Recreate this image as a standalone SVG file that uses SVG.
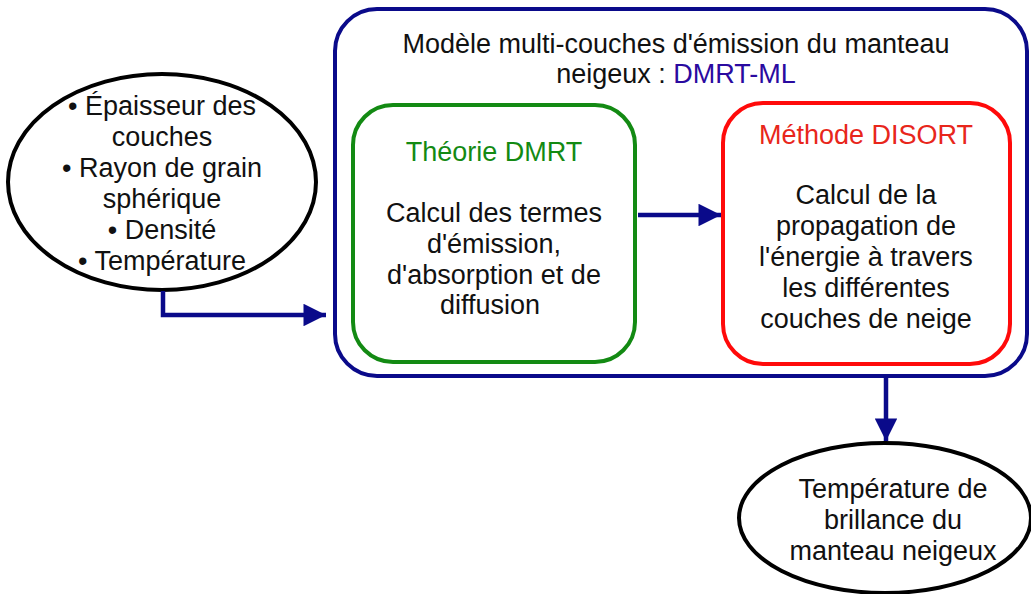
<svg xmlns="http://www.w3.org/2000/svg" width="1031" height="594" viewBox="0 0 1031 594">
<defs>
<style>
text{font-family:"Liberation Sans",Arial,sans-serif;font-size:27px;fill:#111;text-anchor:middle}
.ell{fill:#fff;stroke:#000;stroke-width:4}
.con{fill:none;stroke:#0a0a8a;stroke-width:4.5}
</style>
<marker id="ah" viewBox="0 0 10 10" refX="10" refY="5" markerWidth="6" markerHeight="5" markerUnits="strokeWidth" orient="auto">
<path d="M0,0 L10,5 L0,10 z" fill="#0a0a8a"/>
</marker>
</defs>
<rect width="1031" height="594" fill="#fff"/>
<g id="model">
<rect x="335" y="9" width="692" height="367" rx="42" fill="#fff" stroke="#0a0a8a" stroke-width="4"/>
<text x="676" y="53">Modèle multi-couches d'émission du manteau</text>
<text x="676" y="83">neigeux : <tspan style="fill:#2a0aa0">DMRT-ML</tspan></text>
</g>
<g id="dmrt">
<rect x="353" y="105" width="282" height="257" rx="40" fill="#fff" stroke="#138a13" stroke-width="4"/>
<text x="494" y="161" style="fill:#138a13">Théorie DMRT</text>
<text x="494" y="222">Calcul des termes</text>
<text x="494" y="253">d'émission,</text>
<text x="494" y="284">d'absorption et de</text>
<text x="490" y="314">diffusion</text>
</g>
<g id="disort">
<rect x="723" y="103" width="287" height="261" rx="40" fill="#fff" stroke="#ff0a0a" stroke-width="4"/>
<text x="866" y="144" style="fill:#e8261b">Méthode DISORT</text>
<text x="866" y="204">Calcul de la</text>
<text x="866" y="235">propagation de</text>
<text x="866" y="266">l'énergie à travers</text>
<text x="866" y="297">les différentes</text>
<text x="866" y="328">couches de neige</text>
</g>
<g id="inputs">
<ellipse class="ell" cx="162" cy="182" rx="154" ry="108"/>
<text x="162" y="115">• Épaisseur des</text>
<text x="162" y="146">couches</text>
<text x="162" y="177">• Rayon de grain</text>
<text x="162" y="208">sphérique</text>
<text x="162" y="239">• Densité</text>
<text x="162" y="270">• Température</text>
</g>
<g id="output">
<ellipse class="ell" cx="885" cy="518" rx="146" ry="75"/>
<text x="893" y="498">Température de</text>
<text x="893" y="529">brillance du</text>
<text x="893" y="560">manteau neigeux</text>
</g>
<g id="connectors">
<path class="con" d="M163,291 V315 H326" marker-end="url(#ah)"/>
<path class="con" d="M638,215 H721" marker-end="url(#ah)"/>
<path class="con" d="M886,378 V441" marker-end="url(#ah)"/>
</g>
</svg>
